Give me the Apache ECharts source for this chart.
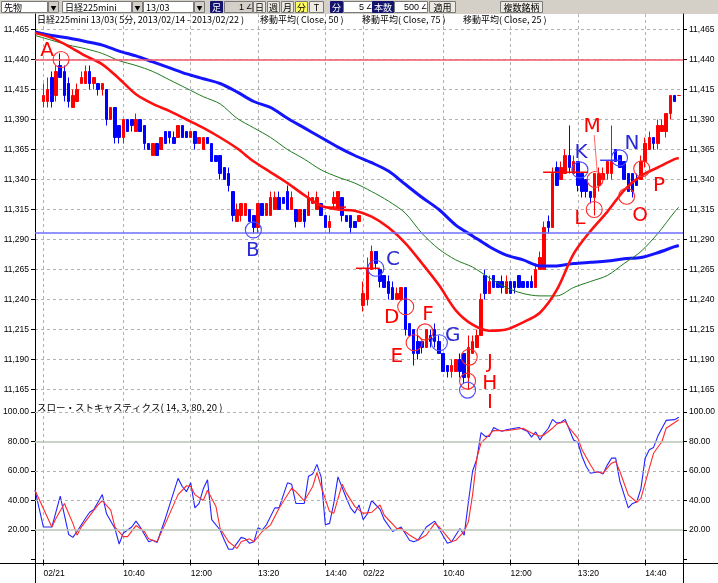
<!DOCTYPE html>
<html><head><meta charset="utf-8">
<script src="https://cdn.jsdelivr.net/npm/echarts@6/dist/echarts.min.js"></script>
<style>html,body{margin:0;padding:0;background:#fff;}#c{width:718px;height:583px;}</style>
</head><body><div id="c"></div>
<script>
// ---------- categories (5-minute bars) ----------
const days = ['02/21', '02/22'];
const leadBars = ['02/20 15:15', '02/20 15:20'];
const trailBars = ['02/22 15:25'];
function sessionTimes() {
  const t = [];
  for (let m = 9 * 60 + 5; m <= 15 * 60 + 20; m += 5) {
    t.push(String(Math.floor(m / 60)).padStart(2, '0') + ':' + String(m % 60).padStart(2, '0'));
  }
  return t;
}
const categories = [...leadBars, ...days.flatMap(d => sessionTimes().map(t => d + ' ' + t)), ...trailBars];
const tickTimes = ['09:05', '10:40', '12:00', '13:20', '14:40'];

// ---------- price axis ----------
const priceMin = 11165, priceMax = 11465, priceStep = 25;
const stochLevels = [100, 80, 60, 40, 20];

// ---------- candles [open, close, low, high] ----------
const ohlc = [
 '-', '-',
 [11405,11410,11400,11420],[11405,11415,11400,11425],[11425,11405,11400,11430],[11410,11430,11405,11435],
 [11435,11425,11425,11445],[11430,11410,11405,11435],[11420,11405,11400,11425],[11400,11410,11400,11415],
 [11405,11415,11405,11420],[11420,11425,11420,11430],[11420,11430,11420,11435],[11430,11420,11415,11435],
 [11420,11425,11415,11425],[11420,11415,11410,11420],[11415,11420,11410,11420],[11415,11390,11385,11415],
 [11390,11400,11390,11400],[11400,11375,11370,11400],[11385,11375,11370,11385],[11375,11390,11370,11390],
 [11390,11380,11380,11390],[11390,11385,11380,11390],[11380,11390,11380,11395],[11390,11380,11380,11390],
 [11385,11370,11365,11385],[11370,11365,11365,11370],[11360,11370,11360,11370],[11370,11360,11360,11370],
 [11365,11375,11365,11375],[11380,11370,11370,11380],[11380,11375,11370,11380],[11375,11370,11370,11380],
 [11375,11385,11375,11385],[11385,11375,11375,11385],[11380,11375,11375,11380],[11375,11380,11375,11380],
 [11380,11370,11365,11380],[11370,11375,11370,11375],[11365,11375,11365,11375],[11375,11370,11370,11375],
 [11370,11355,11355,11370],[11360,11355,11355,11360],[11360,11345,11340,11360],[11350,11340,11340,11350],
 [11345,11335,11330,11350],[11330,11310,11305,11330],[11305,11315,11305,11320],[11310,11320,11305,11320],
 [11310,11320,11310,11320],[11315,11305,11305,11315],[11310,11300,11295,11310],[11300,11320,11295,11320],
 [11320,11310,11310,11320],[11310,11320,11310,11320],[11310,11325,11310,11330],[11315,11325,11315,11330],
 [11325,11315,11315,11330],[11325,11320,11320,11325],[11330,11315,11315,11335],[11315,11325,11315,11330],
 [11315,11305,11300,11315],[11305,11315,11305,11315],[11315,11305,11300,11315],[11310,11325,11310,11330],
 [11320,11325,11320,11325],[11315,11325,11315,11330],[11320,11310,11310,11320],[11310,11300,11300,11310],
 [11300,11305,11295,11310],[11320,11325,11315,11330],[11315,11330,11315,11330],[11325,11310,11305,11325],
 [11310,11305,11305,11310],[11310,11300,11295,11310],[11305,11300,11300,11305],[11305,11310,11305,11310],
 [11235,11245,11230,11255],[11240,11265,11235,11275],[11265,11280,11265,11285],[11280,11270,11265,11280],
 [11265,11255,11250,11265],[11260,11250,11250,11260],[11255,11245,11240,11260],[11250,11240,11240,11255],
 [11240,11245,11240,11250],[11240,11250,11240,11250],[11250,11215,11210,11250],[11220,11210,11210,11220],
 [11215,11195,11185,11215],[11205,11195,11190,11210],[11205,11200,11195,11205],[11200,11215,11200,11215],
 [11210,11205,11200,11215],[11215,11205,11200,11220],[11205,11195,11195,11210],[11195,11180,11180,11195],
 [11185,11180,11175,11185],[11180,11185,11175,11190],[11180,11190,11180,11190],[11190,11180,11175,11195],
 [11195,11175,11170,11195],[11175,11200,11165,11210],[11195,11205,11195,11210],[11200,11210,11200,11215],
 [11210,11240,11210,11245],[11260,11245,11240,11265],[11245,11255,11245,11260],[11260,11250,11250,11260],
 [11255,11250,11250,11255],[11255,11250,11245,11260],[11245,11255,11245,11260],[11255,11245,11245,11255],
 [11255,11250,11245,11255],[11260,11250,11250,11260],[11255,11250,11250,11255],[11255,11250,11250,11255],
 [11255,11250,11250,11260],[11250,11265,11250,11270],[11265,11275,11265,11280],[11265,11300,11265,11305],
 [11305,11300,11295,11310],[11300,11345,11300,11350],[11350,11335,11335,11355],[11340,11350,11340,11355],
 [11345,11360,11345,11365],[11360,11350,11345,11385],[11345,11355,11345,11360],[11355,11335,11330,11355],
 [11345,11330,11325,11345],[11340,11330,11325,11340],[11330,11325,11320,11330],[11325,11345,11310,11345],
 [11335,11345,11330,11350],[11340,11345,11340,11350],[11345,11355,11340,11355],[11345,11355,11340,11385],
 [11365,11355,11355,11365],[11360,11350,11350,11360],[11355,11340,11340,11355],[11345,11330,11330,11345],
 [11345,11330,11325,11345],[11340,11335,11335,11345],[11340,11355,11340,11360],[11355,11370,11350,11375],
 [11365,11375,11365,11380],[11375,11370,11365,11375],[11370,11385,11365,11390],[11380,11385,11380,11390],
 [11380,11395,11375,11395],[11395,11410,11390,11410],[11410,11405,11405,11410],[11410,11410,11410,11410],
 '-'
];

// ---------- moving averages: [bar index, value] ----------
const ma25 = [[0,11462],[4,11458],[8,11451],[12,11443],[16,11436],[20,11424],[24,11411],[28,11403],[32,11397],
 [36,11390],[40,11383],[44,11375],[48,11366],[52,11355],[56,11346],[60,11337],[64,11327],[68,11318],[72,11315],
 [76,11314],[80,11309],[84,11300],[88,11287],[92,11270],[96,11252],[100,11231],[104,11219],[108,11214],[112,11215],
 [116,11221],[120,11229],[124,11248],[128,11278],[132,11297],[136,11313],[140,11331],[144,11343],[148,11350],[152,11357],[153,11358]];
const ma50 = [[0,11460],[4,11456],[8,11452],[12,11449],[16,11445],[20,11439],[24,11435],[28,11430],[32,11423],
 [36,11416],[40,11409],[44,11403],[48,11391],[52,11383],[56,11375],[60,11365],[64,11357],[68,11348],[72,11342],
 [76,11337],[80,11330],[84,11322],[88,11312],[92,11295],[96,11282],[100,11273],[104,11267],[108,11258],[112,11250],
 [116,11245],[120,11243],[124,11243],[128,11250],[132,11255],[136,11260],[140,11270],[144,11280],[148,11295],[152,11313],[153,11317]];
const ma75 = [[0,11463],[4,11460],[8,11458],[12,11455],[16,11452],[20,11447],[24,11443],[28,11438],[32,11433],
 [36,11428],[40,11424],[44,11420],[48,11413],[52,11405],[56,11400],[60,11391],[64,11383],[68,11375],[72,11367],
 [76,11360],[80,11354],[84,11347],[88,11336],[92,11325],[96,11315],[100,11302],[104,11293],[108,11284],[112,11277],
 [116,11273],[120,11268],[124,11268],[128,11270],[132,11271],[136,11272],[140,11274],[144,11275],[148,11279],[152,11284],[153,11285]];

// ---------- slow stochastics ----------
const stochK = [[0,47],[2,22],[4,22],[6,43],[8,17],[9,15],[10,19],[12,28],[13,32],[14,34],[15,39],[16,44],[17,31],[19,21],
 [20,10.5],[21,18],[23,22],[24,26],[25,22],[27,12],[28,13],[29,11.5],[31,28],[32,37],[34,55],[35,49.5],[36,46],[37,52],
 [38,35],[39,38],[40,48],[41,54],[42,27],[44,20],[45,13],[46,7],[47,7],[49,15],[50,14],[51,11],[52,12],[53,21.5],[54,20],
 [55,23.5],[57,35],[58,35],[60,52],[61,51],[62,38],[64,38],[65,56.5],[66,58],[67,64.5],[68,56],[69,23.5],[70,24.5],[71,38],
 [72,56],[74,41.5],[75,35],[76,31.5],[77,37],[78,27],[79,31],[80,40],[82,34],[83,27],[85,19],[87,22],[89,13],[90,12],[91,13],
 [93,22],[95,26],[96,21],[98,11],[99,12],[101,21],[102,16.5],[103,39],[104,60],[105,68],[106,86],[107,83.5],[108,83.5],
 [109,89.5],[110,88],[111,87],[112,88],[114,89],[115,89.5],[117,87],[118,83],[119,86.5],[120,81],[121,85.5],[122,89],
 [123,95],[124,92.5],[125,93],[126,95],[127,88],[128,81],[129,79.5],[130,70],[131,63],[132,58.5],[133,59],[134,59.5],
 [135,58],[136,64],[137,68.7],[138,68.7],[139,53],[140,44],[141,35],[142,38],[143,39],[144,48],[145,68.7],[146,74.4],
 [147,76],[148,83.5],[149,89],[150,94.3],[152,94.8],[153,96.4]];
const stochD = [[0,47],[4,22],[5,28],[7,38],[9,24.5],[10,16.5],[11,22],[14,33.5],[15,37],[16,40],[18,33.5],[19,22],[21,15.5],
 [22,15.5],[24,23],[26,19],[27,14],[29,12],[31,24.5],[34,44],[36,50],[37,49.5],[38,44],[40,40],[41,47],[43,36],[44,21],
 [46,12],[48,7.5],[49,12],[51,14],[52,12],[54,19],[56,23.5],[58,34.7],[61,48.3],[62,46],[64,39.7],[66,49.5],[67,59],
 [68,49.5],[70,32.5],[71,31.3],[73,51],[74,45],[76,36],[77,33.6],[78,31.3],[80,32],[82,37],[83,30],[86,21],[87,21],
 [89,16.6],[91,13],[93,16.6],[95,24.5],[96,22.3],[99,12],[100,13],[102,19],[103,25.7],[104,44],[105,68.7],[106,79],
 [108,84.6],[109,87.5],[112,87.3],[116,89],[118,85.7],[120,83.5],[121,84.6],[123,89],[124,91.8],[126,93.6],[127,89],
 [129,82.3],[130,74.4],[132,64.2],[133,59.7],[135,58.5],[137,65.3],[138,66.5],[139,59.7],[141,43.8],[143,38.8],
 [144,41.5],[146,62],[147,72],[149,80],[150,89],[153,94.8]];

// ---------- drawn annotations ----------
const hLines = [{price: 11440, color: '#f25a6a'}, {price: 11296, color: '#6f6fff'}];
const circleMarks = [
 {k:6.2, price:11440, color:'r'}, {k:51.9, price:11298, color:'b'}, {k:81.0, price:11266, color:'b'},
 {k:88.1, price:11234, color:'r'}, {k:90.1, price:11204, color:'r'}, {k:92.7, price:11213, color:'r'},
 {k:96.1, price:11204, color:'b'}, {k:103.2, price:11192, color:'r'}, {k:102.8, price:11172, color:'r'},
 {k:102.8, price:11164.5, color:'b'}, {k:129.5, price:11348, color:'b'}, {k:132.9, price:11315, color:'r'},
 {k:133.1, price:11340, color:'r'}, {k:138.9, price:11358, color:'b'}, {k:140.6, price:11326, color:'r'},
 {k:144.2, price:11349, color:'r'}
];
const letterMarks = [
 {text:'A', k:2.85, price:11447, color:'r'}, {text:'B', k:51.8, price:11281, color:'b'},
 {text:'C', k:85.1, price:11273, color:'b'}, {text:'D', k:84.8, price:11225, color:'r'},
 {text:'E', k:86.0, price:11192, color:'r'}, {text:'F', k:93.4, price:11227, color:'r'},
 {text:'G', k:99.3, price:11210, color:'b'}, {text:'J', k:108.1, price:11187, color:'r'},
 {text:'H', k:108.1, price:11170, color:'r'}, {text:'I', k:108.1, price:11154, color:'r'},
 {text:'K', k:129.8, price:11362, color:'b'}, {text:'L', k:129.5, price:11307, color:'r'},
 {text:'M', k:132.4, price:11384, color:'r'}, {text:'N', k:141.9, price:11370, color:'b'},
 {text:'O', k:143.8, price:11310, color:'r'}, {text:'P', k:148.3, price:11335, color:'r'}
];
const dashMarks = [
 {k:71.3, price:11317, len:22, color:'r'}, {k:79.1, price:11266, len:24, color:'r'},
 {k:126.1, price:11346, len:45, color:'r'}, {k:136.8, price:11356, len:21, color:'b'}
];
const pointerLine = [[132.9, 11377], [133.6, 11347]];

// ---------- header texts ----------
const titleParts = [
 {x: 37, text: '日経225mini 13/03( 5分, 2013/02/14 - 2013/02/22 )'},
 {x: 260, text: '移動平均( Close, 50 )'},
 {x: 362, text: '移動平均( Close, 75 )'},
 {x: 463, text: '移動平均( Close, 25 )'}
];
const stochTitle = 'スロー・ストキャスティクス( 14, 3, 80, 20 )';
const toolbar = [
 {type:'combo', x:1, w:46, text:'先物'}, {type:'combo', x:62, w:69, text:'日経225mini'},
 {type:'combo', x:143, w:50, text:'13/03'}, {type:'label', x:210, w:12, text:'足'},
 {type:'input', x:224, w:28, text:'1', disabled:true}, {type:'button', x:253, w:12, text:'日'},
 {type:'button', x:267, w:12, text:'週'}, {type:'button', x:281, w:12, text:'月'},
 {type:'button', x:295, w:12, text:'分', active:true}, {type:'button', x:309, w:14, text:'T'},
 {type:'label', x:330, w:12, text:'分'}, {type:'input', x:343, w:29, text:'5'},
 {type:'label', x:372, w:21, text:'本数'}, {type:'input', x:394, w:33, text:'500'},
 {type:'button', x:429, w:26, text:'適用'}, {type:'button', x:500, w:42, text:'複数銘柄'}
];

// =================================================================
const JP = '"Noto Sans CJK JP", "Noto Sans", sans-serif';
const NUM = '"Liberation Sans", Arial, sans-serif';
const RED = '#ff0000', BLUE = '#0000ff';
const col = c => c === 'r' ? '#ff0000' : '#2a2ad6';
const circCol = c => c === 'r' ? '#ff2a2a' : '#4a4aff';
const isTick = (i) => { const c = categories[i]; if (!c) return false; return tickTimes.includes(c.split(' ')[1]) && !leadBars.includes(c) && !trailBars.includes(c); };
const tickLabel = (c) => { const [d, t] = c.split(' '); return t === tickTimes[0] ? d : t; };
const gridDash = {color: '#b2b2b2', type: [3, 3], width: 1};
const maxIdx = categories.length - 1;

const graphic = [];
graphic.push({type:'rect', shape:{x:0, y:0, width:718, height:14}, style:{fill:'#d4d0c8'}, silent:true, z:0});
toolbar.forEach(it => {
  const y = 1.5, h = 11;
  if (it.type === 'combo') {
    graphic.push({type:'rect', shape:{x:it.x + .5, y, width:it.w, height:h}, style:{fill:'#fff', stroke:'#7a7a7a', lineWidth:1}, silent:true});
    graphic.push({type:'text', x:it.x + 3, y:7.5, style:{text:it.text, font:'9px ' + JP, fill:'#000', verticalAlign:'middle'}, silent:true});
    graphic.push({type:'rect', shape:{x:it.x + it.w + 1.5, y, width:10, height:h}, style:{fill:'#d4d0c8', stroke:'#7a7a7a', lineWidth:1}, silent:true});
    graphic.push({type:'text', x:it.x + it.w + 6.5, y:7.5, style:{text:'▼', font:'6px ' + JP, fill:'#000', align:'center', verticalAlign:'middle'}, silent:true});
  } else if (it.type === 'label') {
    graphic.push({type:'rect', shape:{x:it.x + .5, y, width:it.w, height:h}, style:{fill:'#14146e', stroke:'#14146e', lineWidth:1}, silent:true});
    graphic.push({type:'text', x:it.x + it.w / 2 + .5, y:7.5, style:{text:it.text, font:'9px ' + JP, fill:'#fff', align:'center', verticalAlign:'middle'}, silent:true});
  } else if (it.type === 'input') {
    graphic.push({type:'rect', shape:{x:it.x + .5, y, width:it.w, height:h}, style:{fill:it.disabled ? '#d4d0c8' : '#fff', stroke:'#7a7a7a', lineWidth:1}, silent:true});
    graphic.push({type:'text', x:it.x + it.w - 8, y:7.5, style:{text:it.text, font:'9px ' + NUM, fill:'#000', align:'right', verticalAlign:'middle'}, silent:true});
    graphic.push({type:'text', x:it.x + it.w - 3.5, y:7.5, style:{text:'∠', font:'7px ' + NUM, fill:'#000', align:'center', verticalAlign:'middle'}, silent:true});
  } else {
    graphic.push({type:'rect', shape:{x:it.x + .5, y, width:it.w, height:h}, style:{fill:it.active ? '#ffff60' : '#ece9e0', stroke:'#7a7a7a', lineWidth:1}, silent:true});
    graphic.push({type:'text', x:it.x + it.w / 2 + .5, y:7.5, style:{text:it.text, font:'9px ' + JP, fill:'#000', align:'center', verticalAlign:'middle'}, silent:true});
  }
});
titleParts.forEach(p => graphic.push({type:'text', x:p.x, y:20, z:10, style:{text:p.text, font:'9px ' + JP, fill:'#000', verticalAlign:'middle'}, silent:true}));
graphic.push({type:'text', x:37, y:407, z:10, style:{text:stochTitle, font:'9.5px ' + JP, fill:'#000', verticalAlign:'middle'}, silent:true});

const chart = echarts.init(document.getElementById('c'), null, {renderer:'canvas'});
chart.setOption({
  animation: false,
  backgroundColor: '#fff',
  graphic: graphic,
  grid: [
    {left:35, right:35, top:29.5, height:360, outerBoundsMode:'none'},
    {left:35, right:35, top:412, height:147.5, outerBoundsMode:'none'},
    {left:35, right:35, top:14, height:550, outerBoundsMode:'none'},
    {left:35, right:35, top:14, bottom:0, outerBoundsMode:'none'},
    {left:0, right:0, top:14, height:549.5, outerBoundsMode:'none'}
  ],
  xAxis: [
    {gridIndex:0, type:'category', data:categories, boundaryGap:false, axisLine:{show:false}, axisTick:{show:false}, axisLabel:{show:false}, splitLine:{show:false}},
    {gridIndex:0, type:'value', min:0, max:maxIdx, show:false},
    {gridIndex:1, type:'category', data:categories, boundaryGap:false, offset:4,
      axisLine:{show:false},
      axisTick:{show:true, interval:(i) => isTick(i), length:6, lineStyle:{color:'#000'}},
      axisLabel:{interval:(i) => isTick(i), formatter:(v) => tickLabel(v), align:'left', fontSize:8.5, fontFamily:NUM, color:'#000', margin:6},
      splitLine:{show:false}},
    {gridIndex:1, type:'value', min:0, max:maxIdx, show:false},
    {gridIndex:2, type:'category', data:categories, boundaryGap:false, axisLine:{show:false}, axisTick:{show:false}, axisLabel:{show:false},
      splitLine:{show:true, interval:(i) => isTick(i), lineStyle:gridDash}},
    {gridIndex:3, type:'value', show:false},
    {gridIndex:4, type:'value', axisLine:{show:true, onZero:false, lineStyle:{color:'#000'}}, axisTick:{show:false}, axisLabel:{show:false}, splitLine:{show:false}}
  ],
  yAxis: [
    {gridIndex:0, type:'value', min:priceMin, max:priceMax, interval:priceStep, position:'left',
      axisLine:{show:false}, axisTick:{show:true, length:4, lineStyle:{color:'#000'}},
      axisLabel:{formatter:(v) => v.toLocaleString('en-US'), fontSize:8.5, fontFamily:NUM, color:'#000', margin:6},
      splitLine:{show:true, lineStyle:gridDash}},
    {gridIndex:0, type:'value', min:priceMin, max:priceMax, interval:priceStep, position:'right',
      axisLine:{show:false}, axisTick:{show:true, length:4, lineStyle:{color:'#000'}},
      axisLabel:{formatter:(v) => v.toLocaleString('en-US'), fontSize:8.5, fontFamily:NUM, color:'#000', margin:6},
      splitLine:{show:false}},
    {gridIndex:1, type:'value', min:0, max:100, interval:20, position:'left',
      axisLine:{show:false}, axisTick:{show:true, length:4, lineStyle:{color:'#000'}},
      axisLabel:{formatter:(v) => v === 0 ? '' : v.toFixed(2), fontSize:8.5, fontFamily:NUM, color:'#000', margin:6},
      splitLine:{show:false}},
    {gridIndex:1, type:'value', min:0, max:100, interval:20, position:'right',
      axisLine:{show:false}, axisTick:{show:true, length:4, lineStyle:{color:'#000'}},
      axisLabel:{formatter:(v) => v === 0 ? '' : v.toFixed(2), fontSize:8.5, fontFamily:NUM, color:'#000', margin:6},
      splitLine:{show:false}},
    {gridIndex:2, type:'value', show:false},
    {gridIndex:3, type:'value', position:'left', axisLine:{show:true, lineStyle:{color:'#000'}}, axisTick:{show:false}, axisLabel:{show:false}, splitLine:{show:false}},
    {gridIndex:3, type:'value', position:'right', axisLine:{show:true, lineStyle:{color:'#000'}}, axisTick:{show:false}, axisLabel:{show:false}, splitLine:{show:false}},
    {gridIndex:4, type:'value', show:false}
  ],
  series: [
    {type:'candlestick', name:'日経225mini', xAxisIndex:0, yAxisIndex:0, data:ohlc, barWidth:3, z:3,
      itemStyle:{color:RED, color0:BLUE, borderColor:RED, borderColor0:BLUE, borderColorDoji:RED, borderWidth:1},
      markLine:{silent:true, symbol:['none','none'], label:{show:false},
        data: hLines.map(h => ({yAxis:h.price, lineStyle:{color:h.color, width:1.6, type:'solid', opacity:1}}))}},
    {type:'line', name:'移動平均(Close,75)', xAxisIndex:1, yAxisIndex:0, data:ma75, showSymbol:false, smooth:0.3, z:4,
      lineStyle:{color:'#1414ff', width:3}},
    {type:'line', name:'移動平均(Close,50)', xAxisIndex:1, yAxisIndex:0, data:ma50, showSymbol:false, smooth:0.3, z:4,
      lineStyle:{color:'#1f7a1f', width:1}},
    {type:'line', name:'移動平均(Close,25)', xAxisIndex:1, yAxisIndex:0, data:ma25, showSymbol:false, smooth:0.3, z:4,
      lineStyle:{color:'#ff1010', width:2.6}},
    {type:'line', name:'%K', xAxisIndex:3, yAxisIndex:2, data:stochK, showSymbol:false, z:4,
      lineStyle:{color:'#2424ff', width:1.1},
      markLine:{silent:true, symbol:['none','none'], label:{show:false},
        data: stochLevels.map(v => ({yAxis:v, lineStyle: (v === 80 || v === 20) ? {color:'#b9c3b9', width:1.6, type:'solid', opacity:1} : Object.assign({opacity:1}, gridDash)}))}},
    {type:'line', name:'%D', xAxisIndex:3, yAxisIndex:2, data:stochD, showSymbol:false, z:4,
      lineStyle:{color:'#ff2a2a', width:1.1}},
    {type:'scatter', name:'circles', xAxisIndex:1, yAxisIndex:0, clip:false, z:6, symbol:'circle', symbolSize:16, silent:true,
      data: circleMarks.map(c => ({value:[c.k, c.price], itemStyle:{color:'rgba(0,0,0,0)', borderColor:circCol(c.color), borderWidth:1.1, opacity:1}}))},
    {type:'scatter', name:'marks', xAxisIndex:1, yAxisIndex:0, clip:false, z:6, symbol:'rect', silent:true,
      data: dashMarks.map(d => ({value:[d.k, d.price], symbolSize:[d.len, 1.5], itemStyle:{color: d.color === 'r' ? '#ff0000' : '#3c3cff', opacity:1}}))},
    {type:'line', name:'pointer', xAxisIndex:1, yAxisIndex:0, data:pointerLine, showSymbol:false, z:6, silent:true,
      lineStyle:{color:'#ff4040', width:0.8}},
    {type:'scatter', name:'letters', xAxisIndex:1, yAxisIndex:0, clip:false, z:7, symbolSize:1, silent:true,
      itemStyle:{color:'rgba(0,0,0,0)', opacity:1},
      data: letterMarks.map(l => ({name:l.text, value:[l.k, l.price],
        label:{show:true, position:'inside', formatter:'{b}', fontSize:20, fontFamily:'"DejaVu Sans", sans-serif', color:col(l.color), opacity:1, align:'center', verticalAlign:'middle'}}))}
  ]
});
</script></body></html>
